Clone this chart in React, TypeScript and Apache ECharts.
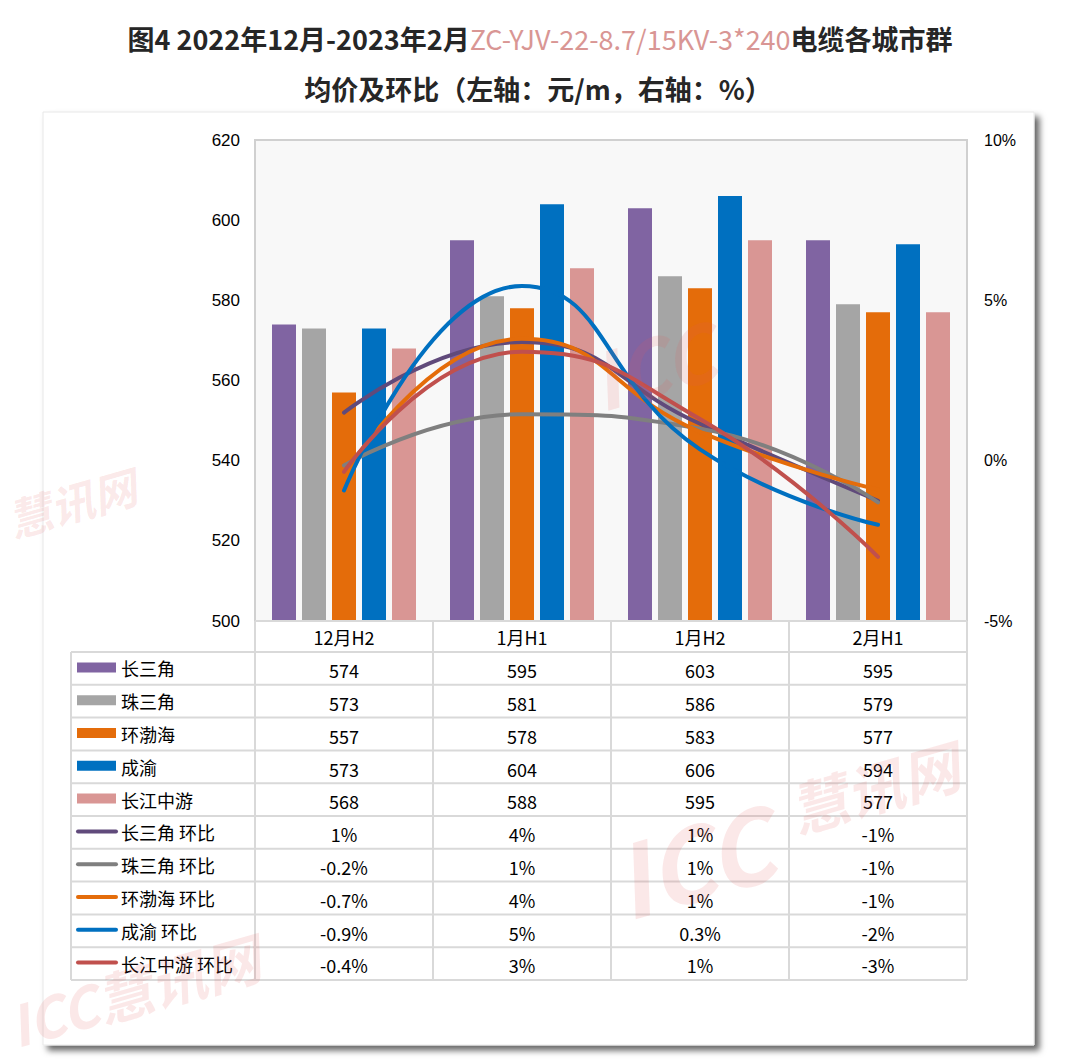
import React, { useEffect, useRef } from "react";
import * as echarts from "echarts";

const categories = ["12月H2", "1月H1", "1月H2", "2月H1"];

const barNames = ["长三角", "珠三角", "环渤海", "成渝", "长江中游"];
const csjPrice = [574, 595, 603, 595];
const zsjPrice = [573, 581, 586, 579];
const hbhPrice = [557, 578, 583, 577];
const cyPrice = [573, 604, 606, 594];
const cjzyPrice = [568, 588, 595, 577];

const lineNames = ["长三角 环比", "珠三角 环比", "环渤海 环比", "成渝 环比", "长江中游 环比"];
// plotted month-on-month values (%)
const csjMom = [1.5, 3.7, 1.15, -1.25];
const zsjMom = [-0.15, 1.45, 1.0, -1.3];
const hbhMom = [-0.45, 3.8, 0.9, -0.9];
const cyMom = [-0.93, 5.45, 0.35, -2.0];
const cjzyMom = [-0.35, 3.4, 1.3, -3.0];
// texts shown in the data table
const csjMomLabels = ["1%", "4%", "1%", "-1%"];
const zsjMomLabels = ["-0.2%", "1%", "1%", "-1%"];
const hbhMomLabels = ["-0.7%", "4%", "1%", "-1%"];
const cyMomLabels = ["-0.9%", "5%", "0.3%", "-2%"];
const cjzyMomLabels = ["-0.4%", "3%", "1%", "-3%"];

const leftTicks = { min: 500, max: 620, interval: 20 };
const rightTicks = { min: -5, max: 10, interval: 5 };

const titleLine1a = "图4 2022年12月-2023年2月";
const titleLine1b = "ZC-YJV-22-8.7/15KV-3*240";
const titleLine1c = "电缆各城市群";
const titleLine2 = "均价及环比（左轴：元/m，右轴：%）";

const barColors = ["#8064A2", "#A5A5A5", "#E46C0A", "#0070C0", "#D99694"];
const lineColors = ["#604A7B", "#7F7F7F", "#E46C0A", "#0070C0", "#C0504D"];

const barData = [csjPrice, zsjPrice, hbhPrice, cyPrice, cjzyPrice];
const lineData = [csjMom, zsjMom, hbhMom, cyMom, cjzyMom];
const lineLabels = [csjMomLabels, zsjMomLabels, hbhMomLabels, cyMomLabels, cjzyMomLabels];

const CJK = '"Noto Sans CJK SC", "Noto Sans", sans-serif';
const LAT = '"Liberation Sans", Arial, sans-serif';

export default function App() {
  const ref = useRef<HTMLDivElement>(null);
  useEffect(() => {
    if (!ref.current) return;
    const chart = echarts.init(ref.current, undefined, { renderer: "svg" });

    const W = 1080;
    const plotL = 255, plotR = 967, plotT = 140, plotB = 621;
    const tableL = 71;
    const headerB = 652;
    const rowH = 32.8;
    const nRows = barNames.length + lineNames.length;
    const tableB = headerB + rowH * nRows;
    const colW = (plotR - plotL) / categories.length;
    const gridColor = "#D9D9D9";

    const graphics: any[] = [];
    // outer frame with shadow
    graphics.push({
      type: "rect",
      z: -10,
      shape: { x: 43, y: 112, width: 991, height: 933 },
      style: {
        fill: "#FFFFFF",
        stroke: "#E8E8E8",
        lineWidth: 1,
        shadowBlur: 6,
        shadowOffsetX: 5,
        shadowOffsetY: 5,
        shadowColor: "rgba(0,0,0,0.6)",
      },
    });
    // title
    graphics.push({
      type: "text",
      z: 10,
      x: 540,
      y: 38,
      style: {
        text: `{a|${titleLine1a}}{b|${titleLine1b}}{a|${titleLine1c}}`,
        align: "center",
        verticalAlign: "middle",
        rich: {
          a: { fontSize: 27, fontWeight: "bold", fontFamily: CJK, fill: "#262626", color: "#262626" },
          b: { fontSize: 27, fontWeight: "normal", fontFamily: CJK, fill: "#D99694", color: "#D99694" },
        },
      },
    });
    graphics.push({
      type: "text",
      z: 10,
      x: 538,
      y: 88,
      style: {
        text: titleLine2,
        align: "center",
        verticalAlign: "middle",
        fill: "#262626",
        font: `bold 27px ${CJK}`,
      },
    });
    // table horizontal lines
    graphics.push({
      type: "line",
      z: 5,
      shape: { x1: plotL, y1: plotB, x2: plotR, y2: plotB },
      style: { stroke: gridColor, lineWidth: 2 },
    });
    for (let k = 0; k <= nRows; k++) {
      const y = headerB + rowH * k;
      graphics.push({
        type: "line",
        z: 5,
        shape: { x1: tableL, y1: y, x2: plotR, y2: y },
        style: { stroke: gridColor, lineWidth: 2 },
      });
    }
    // vertical lines
    graphics.push({
      type: "line",
      z: 5,
      shape: { x1: tableL, y1: headerB, x2: tableL, y2: tableB },
      style: { stroke: gridColor, lineWidth: 2 },
    });
    for (let c = 0; c <= categories.length; c++) {
      const x = plotL + colW * c;
      graphics.push({
        type: "line",
        z: 5,
        shape: { x1: x, y1: plotB, x2: x, y2: tableB },
        style: { stroke: gridColor, lineWidth: 2 },
      });
    }
    // legend column
    const allNames = [...barNames, ...lineNames];
    allNames.forEach((name, k) => {
      const cy = headerB + rowH * (k + 0.5);
      if (k < barNames.length) {
        graphics.push({
          type: "rect",
          z: 6,
          shape: { x: 77, y: cy - 6, width: 39, height: 10 },
          style: { fill: barColors[k] },
        });
      } else {
        graphics.push({
          type: "line",
          z: 6,
          shape: { x1: 78, y1: cy - 1, x2: 116, y2: cy - 1 },
          style: { stroke: lineColors[k - barNames.length], lineWidth: 4, lineCap: "round" },
        });
      }
      graphics.push({
        type: "text",
        z: 6,
        x: 121,
        y: cy,
        style: {
          text: name,
          fill: "#000",
          font: `18px ${CJK}`,
          verticalAlign: "middle",
        },
      });
    });

    // watermarks (kept inside the page)
    const wm = (x: number, y: number, size: number, text: string) => ({
      type: "text",
      z: 100,
      x,
      y,
      rotation: 0.28,
      silent: true,
      style: {
        text,
        fill: "rgba(225, 90, 90, 0.14)",
        font: `italic bold ${size}px ${CJK}`,
        verticalAlign: "middle",
      },
    });
    graphics.push(wm(615, 880, 100, "ICC"));
    graphics.push(wm(790, 810, 58, "慧讯网"));
    graphics.push(wm(592, 380, 78, "ICC"));
    graphics.push(wm(8, 520, 44, "慧讯网"));
    graphics.push(wm(10, 1025, 56, "ICC慧讯网"));

    const series: any[] = [];
    barNames.forEach((name, i) => {
      series.push({
        name,
        type: "bar",
        data: barData[i],
        barWidth: 24,
        barGap: "25%",
        itemStyle: { color: barColors[i] },
        yAxisIndex: 0,
      });
    });
    lineNames.forEach((name, i) => {
      series.push({
        name,
        type: "line",
        data: lineData[i],
        yAxisIndex: 1,
        smooth: true,
        symbol: "none",
        lineStyle: { color: lineColors[i], width: 4, cap: "round" },
        itemStyle: { color: lineColors[i] },
        z: 3 + i,
      });
    });

    const option: any = {
      animation: false,
      backgroundColor: "#FFFFFF",
      grid: {
        left: plotL,
        right: W - plotR,
        top: plotT,
        bottom: 1063 - plotB,
        show: true,
        backgroundColor: "#F8F8F8",
        borderColor: "#D0D0D0",
        borderWidth: 2,
        containLabel: false,
      },
      xAxis: {
        type: "category",
        data: categories,
        axisLine: { show: false },
        axisTick: { show: false },
        splitLine: { show: false },
        axisLabel: {
          margin: 0,
          interval: 0,
          color: "#000",
          fontSize: 18,
          fontFamily: CJK,
          lineHeight: rowH,
          formatter: (value: string, idx: number) => {
            const rows = [value];
            barData.forEach((arr) => rows.push(String(arr[idx])));
            lineLabels.forEach((arr) => rows.push(arr[idx]));
            return rows.join("\n");
          },
        },
      },
      yAxis: [
        {
          type: "value",
          min: leftTicks.min,
          max: leftTicks.max,
          interval: leftTicks.interval,
          axisLine: { show: false },
          axisTick: { show: false },
          splitLine: { show: false },
          axisLabel: { color: "#000", fontSize: 17, fontFamily: LAT, margin: 15 },
        },
        {
          type: "value",
          min: rightTicks.min,
          max: rightTicks.max,
          interval: rightTicks.interval,
          position: "right",
          axisLine: { show: false },
          axisTick: { show: false },
          splitLine: { show: false },
          axisLabel: {
            color: "#000",
            fontSize: 16,
            fontFamily: LAT,
            margin: 17,
            formatter: (v: number) => `${v}%`,
          },
        },
      ],
      graphic: graphics,
      series,
    };
    chart.setOption(option);
    return () => chart.dispose();
  }, []);
  return (
    <div
      ref={ref}
      style={{ position: "fixed", left: 0, top: 0, width: 1080, height: 1063 }}
    />
  );
}
